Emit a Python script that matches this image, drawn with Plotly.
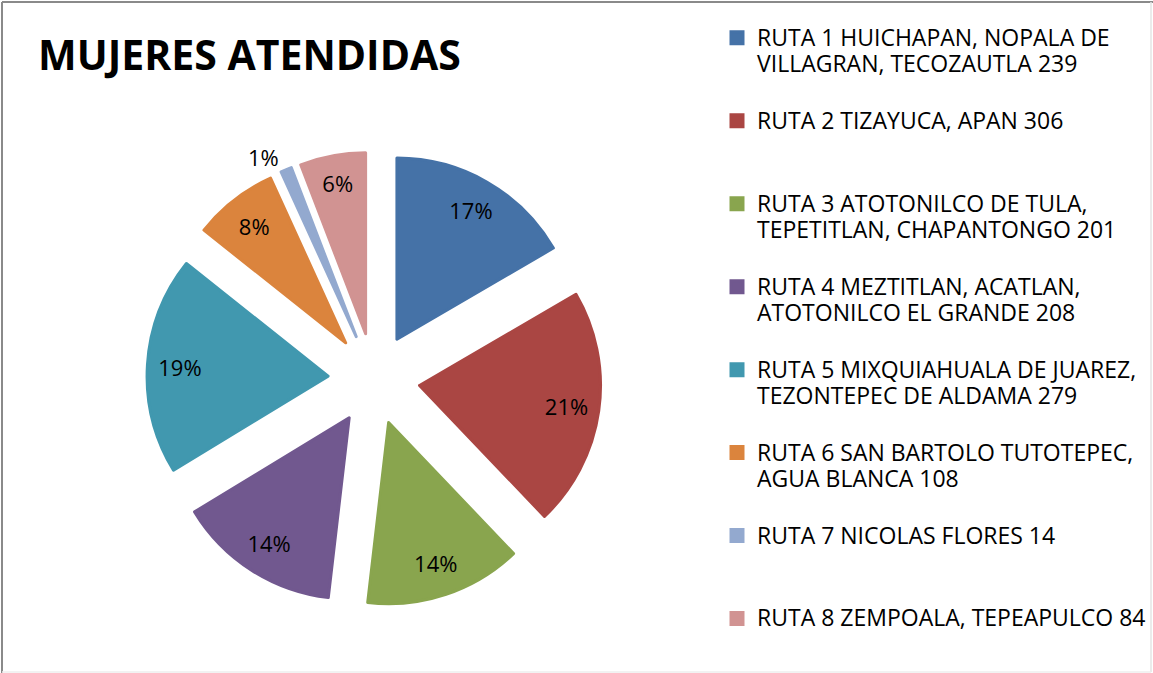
import plotly.graph_objects as go

# rutas y mujeres atendidas
rutas = [
    "RUTA 1 HUICHAPAN, NOPALA DE<br>VILLAGRAN, TECOZAUTLA",
    "RUTA 2 TIZAYUCA, APAN",
    "RUTA 3 ATOTONILCO DE TULA,<br>TEPETITLAN, CHAPANTONGO",
    "RUTA 4 MEZTITLAN, ACATLAN,<br>ATOTONILCO EL GRANDE",
    "RUTA 5 MIXQUIAHUALA DE JUAREZ,<br>TEZONTEPEC DE ALDAMA",
    "RUTA 6 SAN BARTOLO TUTOTEPEC,<br>AGUA BLANCA",
    "RUTA 7 NICOLAS FLORES",
    "RUTA 8 ZEMPOALA, TEPEAPULCO",
]
mujeres = [239, 306, 201, 208, 279, 108, 14, 84]
colores = ["#4572A7", "#AA4643", "#89A54E", "#71588F",
           "#4198AF", "#DB843D", "#93A9CF", "#D19392"]

W, H = 1153, 673
fuente = "Open Sans"

# etiquetas de la leyenda: se rellenan a 3 lineas para que el espaciado sea parejo
etiquetas = []
for i, (r, v) in enumerate(zip(rutas, mujeres)):
    lineas = f"{r} {v}".split("<br>")
    txt = "<br>".join(f'<span style="font-size:23px">{l}</span>' for l in lineas)
    if i < len(rutas) - 1:
        txt += "<br> " * (3 - len(lineas))
    etiquetas.append(txt)

posiciones = ["outside" if v / sum(mujeres) < 0.02 else "inside" for v in mujeres]
dominio = dict(x=[147 / W, 601 / W], y=[1 - 606 / H, 1 - 152 / H])
explosion = 0.254

fig = go.Figure()
# rebanadas (el borde del mismo color agranda el cuadro de la leyenda)
fig.add_trace(go.Pie(
    labels=etiquetas,
    values=mujeres,
    sort=False,
    direction="clockwise",
    rotation=0,
    pull=explosion,
    marker=dict(colors=colores, line=dict(width=3, color=colores)),
    textinfo="none",
    hoverinfo="skip",
    domain=dominio,
))
# porcentajes (anillo transparente para llevar las etiquetas hacia el borde, como en Excel)
fig.add_trace(go.Pie(
    labels=[f"p{i}" for i in range(len(mujeres))],
    values=mujeres,
    sort=False,
    direction="clockwise",
    rotation=0,
    pull=explosion,
    hole=0.64,
    marker=dict(colors=["rgba(0,0,0,0)"] * len(mujeres), line=dict(width=0)),
    texttemplate="%{percent:.0%}",
    textposition=posiciones,
    insidetextorientation="horizontal",
    textfont=dict(family=fuente, size=22, color="black"),
    hoverinfo="skip",
    showlegend=False,
    domain=dominio,
))

# marco del grafico
fig.add_shape(type="line", xref="paper", yref="paper", x0=2 / W, x1=2 / W, y0=0, y1=1 - 2 / H,
              line=dict(color="#8a8a8a", width=2))
fig.add_shape(type="line", xref="paper", yref="paper", x0=2 / W, x1=1, y0=1 - 2 / H, y1=1 - 2 / H,
              line=dict(color="#8a8a8a", width=2))
fig.add_shape(type="line", xref="paper", yref="paper", x0=1151 / W, x1=1151 / W, y0=1 / H, y1=1 - 2 / H,
              line=dict(color="#e4e4e4", width=1.5))
fig.add_shape(type="line", xref="paper", yref="paper", x0=2 / W, x1=1151 / W, y0=1 / H, y1=1 / H,
              line=dict(color="#eeeeee", width=1.5))

fig.update_layout(
    width=W, height=H,
    autosize=False,
    margin=dict(l=0, r=0, t=0, b=0, autoexpand=False),
    paper_bgcolor="white",
    plot_bgcolor="white",
    title=dict(text="<b>MUJERES ATENDIDAS</b>", x=38 / W, xanchor="left",
               y=1 - 56 / H, yanchor="middle",
               font=dict(family=fuente, size=41, color="black")),
    legend=dict(x=717 / W, xanchor="left", y=1 - 18 / H, yanchor="top",
                valign="top", bgcolor="rgba(0,0,0,0)",
                font=dict(family=fuente, size=20.5, color="black")),
    showlegend=True,
)

fig.write_html("out.html",
               config={"responsive": False, "displayModeBar": False},
               post_script="document.body.style.margin='0';document.body.style.overflow='hidden';")
